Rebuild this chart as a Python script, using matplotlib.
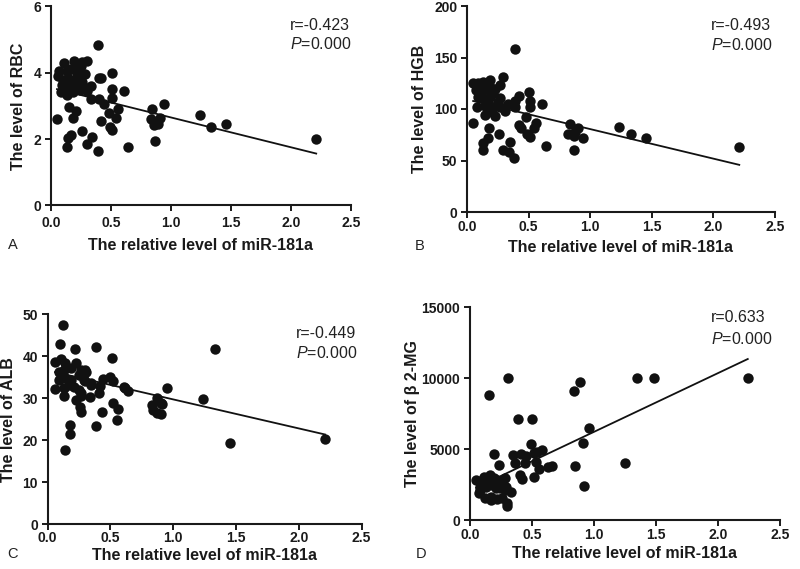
import matplotlib
matplotlib.use("Agg")
import matplotlib.pyplot as plt
import numpy as np

plt.rcParams['font.family'] = ['Liberation Sans', 'DejaVu Sans']
plt.rcParams['mathtext.fontset'] = 'custom'
plt.rcParams['mathtext.it'] = 'Liberation Sans:italic'
plt.rcParams['mathtext.rm'] = 'Liberation Sans'

############ DATA ############

# panel A: RBC
rbc_x = [0.39, 0.11, 0.19, 0.26, 0.30, 0.07, 0.13, 0.17, 0.20, 0.22, 0.10, 0.14, 0.19, 0.23,
         0.26, 0.09, 0.14, 0.18, 0.23, 0.29, 0.08, 0.13, 0.18, 0.24, 0.30, 0.40, 0.42, 0.51,
         0.51, 0.61, 0.51, 0.33, 0.40, 0.44, 0.56, 0.48, 0.54, 0.42, 0.49, 0.51, 0.84, 0.94,
         0.83, 0.86, 0.89, 0.91, 0.87, 0.64, 1.24, 1.33, 1.46, 2.21, 0.15, 0.21, 0.05, 0.18,
         0.26, 0.17, 0.14, 0.13, 0.30, 0.34, 0.39, 0.06, 0.15, 0.25, 0.28, 0.33]
rbc_y = [4.85, 4.30, 4.36, 4.31, 4.36, 4.06, 4.05, 4.10, 4.12, 3.98, 3.78, 3.83, 3.78, 3.83,
         3.73, 3.63, 3.58, 3.63, 3.66, 3.53, 3.43, 3.33, 3.43, 3.48, 3.45, 3.83, 3.83, 4.00,
         3.52, 3.46, 3.23, 3.20, 3.20, 3.06, 2.91, 2.78, 2.64, 2.54, 2.37, 2.27, 2.91, 3.05,
         2.59, 2.42, 2.45, 2.62, 1.95, 1.77, 2.71, 2.36, 2.46, 2.00, 2.98, 2.85, 2.61, 2.62,
         2.24, 2.12, 2.02, 1.77, 1.84, 2.07, 1.65, 3.90, 3.50, 4.20, 3.95, 3.60]

# panel B: HGB
hgb_x = [0.39, 0.29, 0.05, 0.09, 0.13, 0.19, 0.27, 0.07, 0.11, 0.15, 0.19, 0.23, 0.09, 0.13,
         0.19, 0.27, 0.08, 0.15, 0.21, 0.27, 0.33, 0.42, 0.39, 0.39, 0.50, 0.51, 0.51, 0.61,
         0.15, 0.23, 0.48, 0.05, 0.56, 0.54, 0.42, 0.44, 0.18, 0.26, 0.49, 0.51, 0.17, 0.13,
         0.13, 0.35, 0.29, 0.34, 0.38, 0.64, 0.84, 0.82, 0.87, 0.90, 0.88, 0.94, 0.87, 1.23,
         1.33, 1.45, 2.21, 0.11, 0.21, 0.17, 0.25, 0.31, 0.20]
hgb_y = [158.6, 131.4, 125.0, 125.6, 126.5, 128.2, 123.3, 118.4, 120.1, 119.1, 121.1, 119.1,
         112.0, 110.4, 112.0, 110.4, 102.2, 102.9, 101.6, 102.2, 104.9, 112.6, 108.0, 101.6,
         116.8, 108.0, 101.6, 104.6, 94.2, 93.2, 92.5, 86.1, 86.7, 81.3, 84.5, 81.3, 81.9,
         75.4, 75.7, 72.5, 71.5, 67.3, 60.2, 68.3, 60.2, 58.3, 52.4, 64.4, 85.4, 75.4, 73.8,
         81.3, 78.0, 71.5, 60.5, 82.2, 75.7, 71.8, 63.4, 115.0, 116.0, 106.0, 107.0, 98.0, 97.0]

# panel C: ALB
alb_x = [1.33, 2.21, 1.45, 1.24, 0.95, 0.87, 0.90, 0.83, 0.84, 0.87, 0.90, 0.91, 0.62, 0.64,
         0.51, 0.39, 0.22, 0.12, 0.44, 0.50, 0.52, 0.30, 0.30, 0.35, 0.42, 0.41, 0.23, 0.27,
         0.34, 0.26, 0.27, 0.43, 0.52, 0.56, 0.55, 0.39, 0.18, 0.18, 0.14, 0.61, 0.10, 0.06,
         0.11, 0.14, 0.09, 0.13, 0.19, 0.23, 0.27, 0.31, 0.09, 0.14, 0.19, 0.25, 0.29, 0.35,
         0.06, 0.13, 0.17, 0.21, 0.25, 0.27, 0.13]
alb_y = [41.7, 20.3, 19.4, 29.8, 32.5, 30.0, 28.8, 28.4, 27.2, 26.4, 26.2, 28.6, 32.4, 31.6,
         39.5, 42.1, 41.7, 47.5, 34.5, 35.0, 34.0, 36.7, 34.0, 33.2, 32.8, 31.2, 29.6, 30.4,
         30.2, 27.9, 26.6, 26.7, 28.8, 27.4, 24.7, 23.4, 23.6, 21.5, 17.6, 32.6, 42.9, 38.6,
         39.3, 38.3, 36.3, 36.7, 37.1, 38.3, 36.7, 36.3, 34.4, 34.8, 34.4, 35.5, 34.4, 33.7,
         32.1, 32.4, 33.2, 32.6, 32.0, 31.3, 30.4]

# panel D: beta2-MG
b2mg_x = [2.24, 1.35, 1.48, 0.31, 0.15, 0.84, 0.89, 0.39, 0.50, 0.96, 0.91, 0.49, 0.54, 0.58,
          0.52, 0.19, 0.35, 0.41, 0.45, 0.36, 0.44, 0.23, 0.53, 0.56, 0.63, 0.66, 0.85, 1.25,
          0.92, 0.40, 0.42, 0.52, 0.05, 0.11, 0.16, 0.19, 0.22, 0.28, 0.08, 0.13, 0.18, 0.24,
          0.29, 0.33, 0.07, 0.12, 0.17, 0.26, 0.30, 0.08, 0.21, 0.28, 0.17, 0.22, 0.30, 0.14,
          0.10, 0.20, 0.25]
b2mg_y = [10000, 10000, 10000, 10000, 8850, 9110, 9720, 7140, 7140, 6460, 5400, 5350, 4810, 4930,
          4700, 4650, 4580, 4630, 4530, 4040, 4040, 3870, 4110, 3590, 3750, 3800, 3800, 4040,
          2420, 3170, 2860, 3000, 2820, 3050, 3170, 2940, 2820, 2940, 2350, 2350, 2460, 2230,
          2350, 1990, 1880, 1530, 1410, 1530, 1180, 2110, 2230, 2110, 1640, 1460, 990, 2700,
          2600, 2600, 2500]

# regression lines: (slope, intercept)
fit_params = [(-0.90, 3.55), (-28.7, 109.2), (-6.9, 36.6), (4142, 2075)]
r_texts = ['r=-0.423', 'r=-0.493', 'r=-0.449', 'r=0.633']
y_labels = ['The level of RBC', 'The level of HGB', 'The level of ALB', 'The level of \u03b2 2-MG']
y_ticks = [[0, 2, 4, 6], [0, 50, 100, 150, 200], [0, 10, 20, 30, 40, 50], [0, 5000, 10000, 15000]]
panel_letters = ['A', 'B', 'C', 'D']

xs = [rbc_x, hgb_x, alb_x, b2mg_x]
ys = [rbc_y, hgb_y, alb_y, b2mg_y]

############ PLOT ############

W, H = 800, 569
fig = plt.figure(figsize=(8, 5.69), dpi=100)

# axes boxes in pixels: left, right (x=2.5), y of 0, y of top tick
boxes = [(51, 351, 205.3, 6.4), (467, 775, 212, 6),
         (47.5, 361.5, 524.3, 314), (470, 780, 520, 307.3)]
# annotation anchors in pixels (left x, r-line y, P-line y)
ann = [(290, 25, 44), (711, 25, 45), (296, 333, 353), (711, 318, 339)]
letter_pos = [(13, 245), (420, 246), (13, 554), (421, 554)]
ylabel_x = [19, 419, 9, 413]
xlabel_y = [245, 247, 555, 554]
xtick_pad = [4, 1.5, 1, 1.5]

for i in range(4):
    l, r, y0, y1 = boxes[i]
    ax = fig.add_axes([l / W, 1 - y0 / H, (r - l) / W, (y0 - y1) / H])
    ax.plot(xs[i], ys[i], 'o', color='#111111', markersize=7.5, markeredgewidth=0,
            clip_on=False, zorder=3)
    slope, intercept = fit_params[i]
    lx = np.array([min(xs[i]), max(xs[i])])
    ax.plot(lx, slope * lx + intercept, color='#111111', linewidth=1.3, zorder=2)

    ax.set_xlim(0, 2.5)
    ax.set_ylim(0, y_ticks[i][-1])
    ax.set_xticks([0, 0.5, 1.0, 1.5, 2.0, 2.5])
    ax.set_xticklabels(['0.0', '0.5', '1.0', '1.5', '2.0', '2.5'])
    ax.set_yticks(y_ticks[i])
    for s in ['top', 'right']:
        ax.spines[s].set_visible(False)
    for s in ['left', 'bottom']:
        ax.spines[s].set_linewidth(1.5)
        ax.spines[s].set_color('#1a1a1a')
    ax.tick_params(direction='out', length=4, width=1.4, color='#1a1a1a', pad=3,
                   labelsize=10, labelcolor='#1a1a1a')
    ax.tick_params(axis='x', pad=xtick_pad[i])
    for t in ax.get_xticklabels() + ax.get_yticklabels():
        t.set_fontweight('bold')

    # axis titles
    fig.text((l + r) / 2 / W, 1 - xlabel_y[i] / H, 'The relative level of miR-181a',
             fontsize=11.5, fontweight='bold', va='center', ha='center', color='#1a1a1a')
    fig.text(ylabel_x[i] / W, 1 - (y0 + y1) / 2 / H, y_labels[i], rotation=90,
             fontsize=11.5, fontweight='bold', va='center', ha='center', color='#1a1a1a')

    ax_x, ry, py = ann[i]
    fig.text(ax_x / W, 1 - ry / H, r_texts[i], fontsize=11.5, va='center', ha='left', color='#222222')
    fig.text(ax_x / W, 1 - py / H, r'$\it{P}$=0.000', fontsize=11.5, va='center', ha='left',
             color='#222222')
    lx_, ly_ = letter_pos[i]
    fig.text(lx_ / W, 1 - ly_ / H, panel_letters[i], fontsize=10.5, va='center', ha='center',
             color='#222222')

fig.savefig('out.png', dpi=100)
